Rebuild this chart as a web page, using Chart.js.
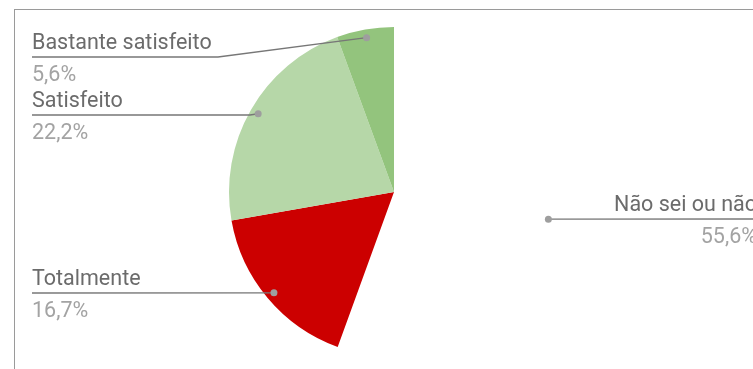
<!DOCTYPE html>
<html>
<head>
    <meta charset="utf-8">
    <title>Satisfação</title>
    <script src="https://cdn.jsdelivr.net/npm/chart.js"></script>
    <style>
        body { margin: 0; background: #fff; overflow: hidden; }
        #wrap { position: relative; width: 753px; height: 369px; }
        #frame { position: absolute; left: 14px; top: 9px; right: -5px; bottom: -5px;
                 border-left: 1px solid #9a9a9a; border-top: 1px solid #9a9a9a; }
        canvas { position: absolute; left: 0; top: 0; }
    </style>
</head>
<body>
<div id="wrap">
    <div id="frame"></div>
    <canvas id="pieChart" width="753" height="369"></canvas>
</div>

<script>
    // dados (ordem horária a partir do topo)
    const categorias = ['Não sei ou não', 'Totalmente', 'Satisfeito', 'Bastante satisfeito'];
    const percentagens = [55.6, 16.7, 22.2, 5.6];
    const cores = ['#ffffff', '#cc0000', '#b6d7a8', '#93c47d'];

    // onde fica cada rótulo (texto + linha guia)
    const rotulos = [
        { align: 'right', x: 757, lineY: 219, bend: null },
        { align: 'left', x: 32, lineY: 293, bend: null },
        { align: 'left', x: 32, lineY: 115, bend: 250 },
        { align: 'left', x: 32, lineY: 57, bend: 218 }
    ];

    const leaderPlugin = {
        id: 'leaders',
        afterDraw(chart) {
            const ctx = chart.ctx;
            const arcs = chart.getDatasetMeta(0).data;
            ctx.save();
            arcs.forEach((arc, i) => {
                const r = rotulos[i];
                const mid = (arc.startAngle + arc.endAngle) / 2;
                const dx = arc.x + Math.cos(mid) * arc.outerRadius * 0.95;
                const dy = arc.y + Math.sin(mid) * arc.outerRadius * 0.95;

                // linha guia
                ctx.strokeStyle = '#777';
                ctx.lineWidth = 1.3;
                ctx.beginPath();
                ctx.moveTo(r.x, r.lineY);
                if (r.bend !== null) ctx.lineTo(r.bend, r.lineY);
                ctx.lineTo(dx, dy);
                ctx.stroke();

                ctx.fillStyle = '#9e9e9e';
                ctx.beginPath();
                ctx.arc(dx, dy, 3.5, 0, Math.PI * 2);
                ctx.fill();

                // texto
                ctx.textAlign = r.align;
                ctx.textBaseline = 'alphabetic';
                ctx.font = '21.5px Roboto';
                ctx.fillStyle = '#6b6b6b';
                ctx.fillText(categorias[i], r.x, r.lineY - 8);
                ctx.fillStyle = '#a3a3a3';
                const pct = percentagens[i].toFixed(1).replace('.', ',') + '%';
                ctx.fillText(pct, r.x, r.lineY + 24);
            });
            ctx.restore();
        }
    };

    const ctx = document.getElementById('pieChart').getContext('2d');
    const pieChart = new Chart(ctx, {
        type: 'pie',
        data: {
            labels: categorias,
            datasets: [{
                data: percentagens,
                backgroundColor: cores,
                borderWidth: 0
            }]
        },
        options: {
            responsive: false,
            animation: false,
            layout: { padding: { left: 229, right: 194, top: 27, bottom: 12 } },
            plugins: {
                legend: { display: false },
                tooltip: { enabled: false }
            }
        },
        plugins: [leaderPlugin]
    });
</script>
</body>
</html>
